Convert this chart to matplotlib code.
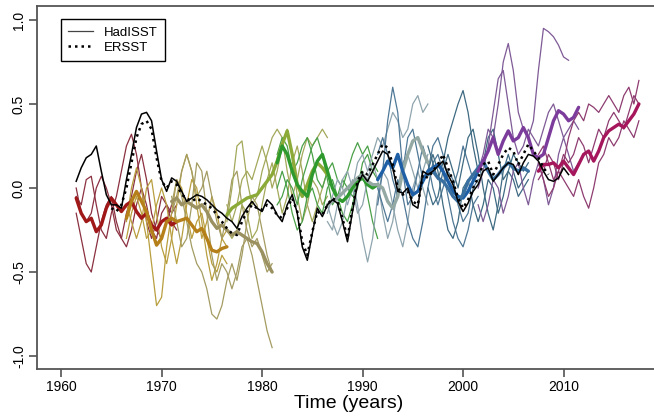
import numpy as np
import matplotlib
matplotlib.use("Agg")
import matplotlib.pyplot as plt
from matplotlib.lines import Line2D

plt.rcParams['font.family'] = ['Liberation Sans', 'DejaVu Sans']

STEP = 0.5

# ---- observations ----
had_start = 1961.5
hadisst = [0.04, 0.12, 0.18, 0.20, 0.25, 0.10, -0.04, -0.10, -0.10, -0.12,
           0.05, 0.20, 0.36, 0.44, 0.45, 0.40, 0.22, 0.05, -0.02, 0.06,
           0.04, -0.02, -0.08, -0.06, -0.04, -0.05, -0.07, -0.10, -0.13, -0.15,
           -0.18, -0.20, -0.24, -0.17, -0.12, -0.08, -0.12, -0.14, -0.07, -0.10,
           -0.16, -0.20, -0.10, -0.04, -0.15, -0.35, -0.43, -0.27, -0.12, -0.17,
           -0.10, -0.07, -0.09, -0.20, -0.32, -0.14, 0.02, 0.08, 0.04, 0.10,
           0.16, 0.22, 0.20, 0.12, -0.02, -0.03, 0.00, -0.10, -0.12, 0.10,
           0.08, 0.10, 0.13, 0.16, 0.08, 0.02, -0.08, -0.14, -0.09, -0.02,
           0.02, 0.10, 0.12, 0.04, 0.08, 0.12, 0.15, 0.14, 0.08, 0.15,
           0.20, 0.19, 0.16, 0.10, 0.05, 0.04, 0.06, 0.12, 0.08]

ers_start = 1965.0
ersst = [-0.12, -0.14, -0.10, 0.00, 0.15, 0.30, 0.38, 0.40, 0.35, 0.18,
         0.04, 0.00, 0.04, 0.02, -0.04, -0.06, -0.08, -0.06, -0.08, -0.10,
         -0.12, -0.16, -0.20, -0.24, -0.27, -0.28, -0.20, -0.14, -0.10, -0.12,
         -0.13, -0.10, -0.12, -0.16, -0.18, -0.12, -0.06, -0.14, -0.32, -0.40,
         -0.26, -0.14, -0.16, -0.10, -0.06, -0.08, -0.18, -0.30, -0.12, 0.04,
         0.10, 0.08, 0.14, 0.20, 0.26, 0.24, 0.14, 0.00, -0.04, -0.02,
         -0.08, -0.10, 0.08, 0.06, 0.10, 0.14, 0.20, 0.12, 0.04, -0.06,
         -0.12, -0.07, 0.00, 0.06, 0.14, 0.16, 0.08, 0.14, 0.20, 0.24,
         0.22, 0.14, 0.20, 0.26, 0.22, 0.18, 0.12, 0.08]

# ---- hindcast groups: start year, thin members, thick mean ----
starts = [1961.5, 1966.5, 1971.0, 1976.5, 1981.5, 1986.5, 1991.5, 1996.5, 2001.5, 2007.5]

thin_colors = ["#8B3040", "#B89E3E", "#A49C62", "#A3A85A", "#4AA048",
               "#8FA5AE", "#4F7896", "#3E6A82", "#7E5A96", "#8E3C70"]
thick_colors = ["#A01818", "#B5801A", "#9A9060", "#8BAA38", "#2E9A2E",
                "#94A8A4", "#1E5FA6", "#3A70A0", "#7C3C9C", "#A5165C"]

members = [
    [  # G1
        [-0.15, -0.30, -0.45, -0.50, -0.35, -0.20, -0.10, -0.05, -0.20, -0.30, -0.35, -0.25, -0.10, 0.00, -0.10, -0.25, -0.30, -0.15, -0.10, -0.20, -0.25],
        [-0.05, -0.10, 0.05, 0.07, -0.10, -0.25, -0.30, -0.15, -0.05, 0.10, 0.25, 0.32, 0.20, 0.00, -0.20, -0.30, -0.20, -0.05, -0.10, -0.15, -0.10],
        [0.00, -0.15, -0.20, -0.15, 0.00, 0.07, 0.00, -0.10, -0.25, -0.30, -0.15, -0.05, 0.10, 0.20, 0.05, -0.15, -0.25, -0.30, -0.20, -0.10, -0.05],
    ],
    [  # G2
        [-0.20, 0.00, 0.12, 0.00, -0.20, -0.45, -0.70, -0.65, -0.35, -0.15, 0.05, 0.00, -0.15, -0.30, -0.20, -0.15, -0.30, -0.45, -0.50, -0.40, -0.45],
        [-0.30, -0.15, -0.05, -0.15, -0.30, -0.25, -0.10, 0.00, -0.10, -0.30, -0.45, -0.30, -0.10, 0.05, 0.00, -0.20, -0.40, -0.55, -0.45, -0.30, -0.35],
        [-0.10, -0.20, -0.30, -0.20, 0.00, 0.05, -0.15, -0.35, -0.45, -0.30, -0.10, 0.10, 0.20, 0.10, -0.10, -0.30, -0.20, -0.05, -0.15, -0.30, -0.25],
    ],
    [  # G3
        [-0.05, -0.20, -0.35, -0.30, -0.10, 0.15, 0.10, -0.15, -0.40, -0.55, -0.45, -0.50, -0.60, -0.50, -0.35, -0.30, -0.40, -0.55, -0.70, -0.85, -0.95],
        [-0.10, 0.05, -0.05, -0.20, -0.35, -0.45, -0.50, -0.60, -0.75, -0.78, -0.70, -0.55, -0.45, -0.55, -0.40, -0.20, -0.05, -0.10, -0.25, -0.40, -0.50],
        [-0.15, -0.05, 0.10, 0.20, 0.10, -0.05, 0.00, 0.10, -0.05, -0.20, -0.30, -0.15, 0.05, 0.10, -0.10, -0.25, -0.35, -0.30, -0.40, -0.50, -0.45],
    ],
    [  # G4
        [-0.20, 0.00, 0.25, 0.28, 0.05, -0.10, -0.05, 0.10, 0.20, 0.30, 0.35, 0.30, 0.10, -0.05, 0.05, 0.20, 0.30, 0.25, 0.30, 0.35, 0.30],
        [-0.10, -0.20, -0.10, 0.05, 0.10, 0.05, 0.15, 0.25, 0.15, 0.00, 0.10, 0.25, 0.35, 0.20, -0.05, -0.20, -0.10, 0.05, 0.00, -0.10, -0.05],
        [-0.25, -0.30, -0.25, -0.10, -0.15, -0.30, -0.25, -0.10, 0.05, 0.15, 0.00, -0.15, -0.05, 0.15, 0.25, 0.10, -0.10, -0.20, -0.10, 0.00, 0.10],
    ],
    [  # G5
        [0.00, 0.10, 0.00, -0.15, -0.25, -0.20, -0.05, 0.00, -0.10, -0.15, 0.00, 0.05, -0.05, -0.15, -0.20, -0.10, 0.05, 0.10, -0.05, -0.20, -0.30],
        [0.20, 0.30, 0.25, 0.10, 0.15, 0.25, 0.30, 0.20, 0.05, 0.00, 0.10, 0.15, 0.05, 0.00, 0.10, 0.20, 0.27, 0.20, 0.25, 0.15, 0.10],
        [-0.10, -0.05, 0.05, 0.00, -0.10, 0.05, 0.15, 0.25, 0.30, 0.20, 0.05, -0.10, -0.05, 0.05, 0.00, -0.05, 0.00, 0.15, 0.20, 0.10, 0.05],
    ],
    [  # G6
        [-0.10, -0.20, -0.28, -0.20, -0.05, 0.05, -0.10, -0.30, -0.44, -0.30, -0.05, 0.10, 0.05, -0.10, -0.25, -0.35, -0.20, 0.00, 0.10, 0.00, -0.10],
        [-0.15, -0.05, 0.05, 0.00, -0.10, 0.00, 0.15, 0.20, 0.10, 0.20, 0.30, 0.25, 0.35, 0.45, 0.40, 0.30, 0.35, 0.50, 0.55, 0.45, 0.50],
        [-0.20, -0.25, -0.10, 0.05, 0.10, 0.00, -0.15, -0.10, 0.05, 0.15, 0.05, -0.15, -0.30, -0.20, 0.00, 0.15, 0.20, 0.10, 0.00, 0.10, 0.20],
    ],
    [  # G7
        [-0.10, 0.10, 0.40, 0.60, 0.45, 0.10, -0.10, -0.05, 0.10, 0.25, 0.15, 0.00, -0.10, 0.00, 0.10, 0.05, -0.10, -0.20, -0.15, 0.00, 0.05],
        [0.00, -0.10, -0.20, -0.10, 0.05, -0.05, -0.20, -0.30, -0.35, -0.20, 0.00, 0.15, 0.20, 0.10, -0.05, -0.20, -0.30, -0.35, -0.25, -0.10, -0.05],
        [0.20, 0.30, 0.20, 0.05, -0.05, 0.10, 0.30, 0.35, 0.20, 0.05, 0.10, 0.25, 0.30, 0.20, 0.05, 0.00, 0.10, 0.25, 0.15, 0.05, 0.10],
    ],
    [  # G8
        [0.10, 0.20, 0.10, -0.10, -0.25, -0.30, -0.20, 0.00, 0.05, -0.10, -0.20, -0.10, 0.05, 0.00, -0.15, -0.05, 0.10, 0.05, -0.05, 0.00, 0.05],
        [0.25, 0.15, 0.05, 0.15, 0.30, 0.40, 0.50, 0.58, 0.45, 0.25, 0.10, 0.15, 0.30, 0.35, 0.20, 0.05, 0.10, 0.20, 0.15, 0.10, 0.15],
        [0.00, -0.10, -0.05, 0.10, 0.20, 0.10, 0.00, 0.15, 0.30, 0.35, 0.20, 0.00, -0.15, -0.25, -0.10, 0.10, 0.20, 0.10, 0.00, 0.05, 0.10],
    ],
    [  # G9
        [0.10, 0.20, 0.35, 0.30, 0.50, 0.75, 0.86, 0.70, 0.45, 0.35, 0.30, 0.40, 0.70, 0.95, 0.93, 0.90, 0.85, 0.78, 0.76],
        [0.00, 0.10, 0.25, 0.45, 0.65, 0.70, 0.50, 0.30, 0.20, 0.25, 0.35, 0.30, 0.25, 0.35, 0.45, 0.50, 0.40, 0.30, 0.35, 0.40, 0.35],
        [-0.10, -0.20, -0.10, 0.05, 0.00, -0.15, -0.05, 0.10, 0.15, 0.00, -0.10, 0.05, 0.15, 0.05, -0.10, 0.00, 0.20, 0.30, 0.20, 0.10, 0.15],
    ],
    [  # G10
        [0.05, 0.10, 0.20, 0.15, 0.05, 0.15, 0.30, 0.40, 0.45, 0.40, 0.50, 0.48, 0.45, 0.50, 0.55, 0.50, 0.45, 0.55, 0.60, 0.50, 0.64],
        [0.15, 0.05, -0.05, 0.00, 0.10, 0.05, 0.00, -0.05, 0.05, -0.05, -0.12, 0.00, 0.15, 0.20, 0.30, 0.25, 0.30, 0.40, 0.35, 0.30, 0.40],
        [0.20, 0.25, 0.15, 0.05, 0.10, 0.20, 0.15, 0.20, 0.30, 0.25, 0.15, 0.25, 0.35, 0.30, 0.40, 0.45, 0.40, 0.35, 0.45, 0.55, 0.50],
    ],
]

means = [
    [-0.06, -0.15, -0.20, -0.18, -0.26, -0.22, -0.12, -0.06, -0.10, -0.14, -0.10, -0.08, -0.14, -0.18, -0.15, -0.22, -0.25, -0.20, -0.18, -0.22, -0.20],
    [-0.18, -0.08, -0.02, -0.08, -0.14, -0.25, -0.34, -0.30, -0.20, -0.18, -0.20, -0.19, -0.18, -0.22, -0.26, -0.24, -0.30, -0.37, -0.38, -0.36, -0.35],
    [-0.08, -0.06, -0.10, -0.08, -0.10, -0.12, -0.10, -0.14, -0.20, -0.24, -0.22, -0.25, -0.28, -0.26, -0.28, -0.30, -0.32, -0.33, -0.38, -0.45, -0.50],
    [-0.16, -0.12, -0.10, -0.08, -0.06, -0.05, -0.04, 0.00, 0.04, 0.08, 0.16, 0.26, 0.34, 0.20, 0.02, -0.05, 0.02, 0.10, 0.15, 0.12, 0.08],
    [0.15, 0.25, 0.20, 0.10, 0.02, -0.02, -0.05, 0.08, 0.16, 0.20, 0.10, 0.00, -0.06, -0.08, -0.05, 0.00, 0.04, 0.06, 0.02, 0.00, 0.02],
    [-0.10, -0.08, -0.06, -0.03, 0.00, 0.03, 0.06, 0.08, 0.04, 0.02, 0.02, 0.00, -0.08, -0.12, -0.05, 0.10, 0.20, 0.28, 0.30, 0.22, 0.15],
    [0.05, 0.10, 0.16, 0.12, 0.20, 0.10, 0.02, -0.04, -0.02, 0.04, 0.10, 0.12, 0.14, 0.10, 0.04, -0.02, -0.05, -0.06, -0.02, 0.04, 0.10],
    [0.08, 0.10, 0.06, 0.04, 0.00, -0.05, -0.08, -0.04, 0.04, 0.08, 0.12, 0.16, 0.10, 0.05, 0.08, 0.12, 0.15, 0.12, 0.10, 0.12, 0.10],
    [0.10, 0.16, 0.22, 0.30, 0.20, 0.28, 0.34, 0.28, 0.30, 0.36, 0.30, 0.20, 0.18, 0.20, 0.30, 0.40, 0.46, 0.44, 0.40, 0.42, 0.48],
    [0.10, 0.14, 0.14, 0.15, 0.12, 0.16, 0.12, 0.08, 0.14, 0.20, 0.22, 0.16, 0.22, 0.30, 0.34, 0.36, 0.38, 0.36, 0.40, 0.44, 0.50],
]

x_ticks = [1960, 1970, 1980, 1990, 2000, 2010]
y_ticks = [-1.0, -0.5, 0.0, 0.5, 1.0]
y_ticklabels = ["-1.0", "-0.5", "0.0", "0.5", "1.0"]


def years(start, vals):
    return start + STEP * np.arange(len(vals))


fig = plt.figure(figsize=(6.54, 4.16), dpi=100)
ax = fig.add_axes([37 / 654, 47 / 416, 623 / 654, 363 / 416])

for s, mems, tc in zip(starts, members, thin_colors):
    for m in mems:
        ax.plot(years(s, m), m, color=tc, lw=0.9, solid_joinstyle='round', zorder=2)
for s, mv, kc in zip(starts, means, thick_colors):
    ax.plot(years(s, mv), mv, color=kc, lw=2.4, solid_capstyle='round', zorder=3)

ax.plot(years(had_start, hadisst), hadisst, color='black', lw=1.1, zorder=5)
ax.plot(years(ers_start, ersst), ersst, color='black', lw=1.8,
        linestyle=(0, (1, 1.6)), zorder=4)

ax.set_xlim(1957.6, 2019.6)
ax.set_ylim(-1.077, 1.083)
ax.set_xticks(x_ticks)
ax.set_xticklabels([str(t) for t in x_ticks], fontsize=10)
ax.set_yticks(y_ticks)
ax.set_yticklabels(y_ticklabels, fontsize=10, rotation=90, va='center')
ax.tick_params(axis='both', direction='out', length=6, width=1.1, color='#444444', pad=2)
for sp in ax.spines.values():
    sp.set_color('#555555')
    sp.set_linewidth(1.3)
ax.set_xlabel("Time (years)", fontsize=14, labelpad=1)

handles = [Line2D([], [], color='#444444', lw=0.9),
           Line2D([], [], color='black', lw=1.8, linestyle=(0, (1, 1.6)))]
leg = ax.legend(handles, ["HadISST", "ERSST"], loc='upper left',
                bbox_to_anchor=(0.0385, 0.964), borderaxespad=0, fontsize=9.5,
                fancybox=False, framealpha=1, edgecolor='black',
                handlelength=1.9, handletextpad=0.8, labelspacing=0.25,
                borderpad=0.55)
leg.get_frame().set_linewidth(1.0)

fig.savefig("out.png", dpi=100)
